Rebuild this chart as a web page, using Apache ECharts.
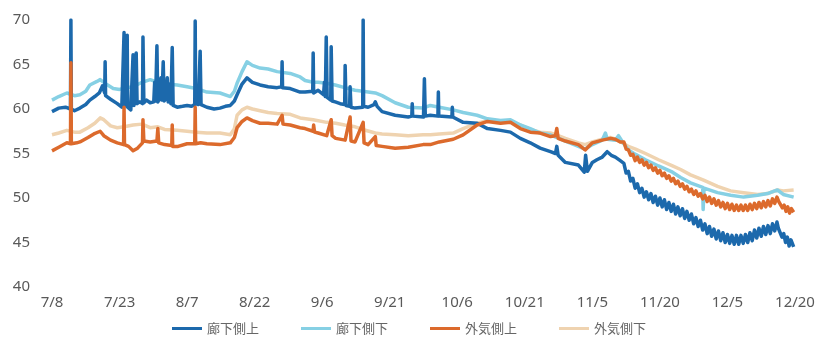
<!DOCTYPE html>
<html>
<head>
<meta charset="utf-8">
<script src="https://cdn.jsdelivr.net/npm/echarts@6/dist/echarts.min.js"></script>
<style>
  html, body { margin: 0; padding: 0; background: #ffffff; }
  #chart { width: 818px; height: 343px; }
</style>
</head>
<body>
<div id="chart"></div>
<script>
// Readings from 7/8 to 12/20; x = days elapsed since 7/8
const tickLabels = ['7/8', '7/23', '8/7', '8/22', '9/6', '9/21', '10/6', '10/21', '11/5', '11/20', '12/5', '12/20'];
const seriesNames = ['廊下側上', '廊下側下', '外気側上', '外気側下'];

// 廊下側上
const corridorUpper = [
  [0,59.7],[1.5,60.1],[3,60.2],[4.1,60.0],[4.2,70.0],[4.3,60.0],[5,59.8],[6.2,60.1],[7.5,60.5],[8.4,61.0],
  [9.5,61.4],[10.5,61.8],[11.2,62.6],[11.7,61.8],[11.8,65.3],[11.9,61.5],[13,61.1],[14.5,60.6],[15.5,60.2],
  [15.9,60.3],[16.0,68.6],[16.1,60.5],[16.6,60.3],[16.7,68.3],[16.8,60.2],[17.5,59.9],[17.9,60.0],[18.0,66.1],
  [18.2,60.4],[18.6,60.3],[18.7,66.3],[18.9,60.6],[19.5,60.8],[20.1,60.6],[20.2,68.1],[20.4,60.7],[21,61.0],
  [21.8,60.7],[22.6,60.8],[22.8,63.0],[23.0,60.9],[23.3,67.1],[23.5,60.8],[24.0,61.3],[24.2,63.5],[24.4,61.0],
  [24.7,65.3],[24.9,60.9],[25.3,61.2],[25.6,63.5],[25.8,60.8],[26.2,62.8],[26.4,60.6],[26.7,66.9],[26.9,60.4],
  [27.8,60.2],[29,60.3],[30,60.4],[31,60.3],[31.7,60.5],[31.8,69.9],[31.9,60.6],[32.5,60.5],[32.9,66.5],
  [33.1,60.5],[34.4,60.2],[36,60.0],[37.3,60.1],[38.5,60.3],[39.6,60.4],[40.5,60.9],[41.1,61.6],[42.2,62.8],
  [43.3,63.5],[44.5,63.0],[46.2,62.7],[48,62.5],[50,62.4],[51.0,62.5],[51.1,65.3],[51.2,62.4],[52.9,62.3],
  [55.1,61.9],[56.2,61.9],[57.9,62.0],[58.0,66.3],[58.1,61.8],[59.1,62.1],[60.3,61.6],[60.5,63.0],[60.7,61.4],
  [60.9,68.1],[61.1,61.3],[61.9,61.0],[62.0,67.0],[62.2,60.9],[62.9,60.8],[64.0,60.6],[65.0,60.5],[65.1,64.9],
  [65.3,60.4],[66.1,60.3],[66.2,62.5],[66.4,60.2],[67.3,60.1],[69.0,60.2],[69.1,70.0],[69.2,60.3],[70.2,60.2],
  [71.5,60.5],[71.8,60.8],[72.2,60.3],[73.3,59.7],[76.2,59.3],[79.1,59.1],[79.9,59.2],[80.0,60.6],[80.1,59.2],
  [82.5,59.1],[82.7,63.4],[82.9,59.2],[84,59.3],[85.7,59.2],[85.8,61.9],[85.9,59.2],[88.8,59.1],[88.9,60.2],
  [89.0,59.1],[91.3,58.5],[94.4,58.4],[96.7,57.8],[99.6,57.6],[101.8,57.4],[104,56.7],[106.2,56.2],[108.4,55.6],
  [110.7,55.2],[111.8,55.0],[112.1,55.8],[112.4,54.8],[114,54.0],[116.9,53.7],[118.2,52.9],[118.5,54.8],
  [118.9,53.0],[120,54.0],[121,54.3],[122.2,54.6],[123.3,55.2],[124.2,54.8],[125.1,54.6],[126.2,54.2],
  [127.0,53.9],[127.5,52.8],[128.0,53.0],[128.5,51.9],[129.0,52.2],[129.5,51.1],[130.0,51.6],[130.5,50.6],
  [131.0,51.1],[131.5,50.1],[132.0,50.7],[132.5,49.8],[133.0,50.5],[133.5,49.5],[134.0,50.2],[134.5,49.2],
  [135.0,50.0],[135.5,49.0],[136.0,49.8],[136.5,48.7],[137.0,49.5],[137.5,48.5],[138.0,49.3],[138.5,48.2],
  [139.0,49.0],[139.5,48.0],[140.0,48.8],[140.5,47.7],[141.0,48.5],[141.5,47.5],[142.0,48.2],[142.5,47.1],
  [143.0,47.8],[143.5,46.8],[144.0,47.5],[144.5,46.4],[145.0,47.1],[145.5,46.0],[146.0,46.8],[146.5,45.7],
  [147.0,46.5],[147.5,45.4],[148.0,46.3],[148.5,45.2],[149.0,46.1],[149.5,45.0],[150.0,45.9],[150.5,44.9],
  [151.0,45.8],[151.5,44.8],[152.0,45.8],[152.5,44.8],[153.0,45.8],[153.5,44.9],[154.0,45.9],[154.5,45.0],
  [155.0,46.1],[155.5,45.2],[156.0,46.4],[156.5,45.5],[157.0,46.6],[157.5,45.7],[158.0,46.8],[158.5,45.9],
  [159.0,46.9],[159.5,46.0],[160.0,47.1],[160.5,46.3],[161.0,47.3],[161.3,46.6],[161.7,46.8],[162.1,45.6],
  [162.5,46.0],[162.9,45.0],[163.3,45.6],[163.7,44.6],[164.1,45.3],[164.7,44.5]
];

// 廊下側下
const corridorLower = [
  [0,61.0],[1.5,61.4],[3.3,61.8],[5,61.5],[6.2,61.6],[7.5,62.0],[8.4,62.7],[10,63.1],[10.7,63.3],[12,62.8],
  [13.6,62.3],[15,62.2],[16.5,62.4],[18,62.5],[20,63.0],[21.8,63.3],[23.5,63.0],[25.5,62.8],[27.8,62.7],
  [30,62.5],[32,62.3],[34.4,61.9],[37.3,61.8],[39.6,61.4],[40.5,62.0],[41.1,62.9],[42.2,64.2],[43.3,65.3],
  [44.5,64.9],[46.2,64.6],[48,64.5],[50,64.2],[52.9,64.0],[55.1,63.6],[56.2,63.2],[58,63.0],[59.1,63.0],
  [61,62.9],[62.9,62.7],[65,62.4],[67.3,62.1],[69,62.0],[71.8,61.8],[73.3,61.5],[76.2,60.7],[79.1,60.2],
  [82.4,60.1],[84,60.4],[86,60.2],[89.1,59.9],[91.3,59.6],[94.4,59.3],[96.7,58.9],[99.6,58.7],[101.8,58.8],
  [104,58.2],[106.2,57.8],[108.4,57.3],[110.7,57.1],[112,56.8],[114,56.4],[116.9,55.8],[118.4,55.5],[120,56.0],
  [122.2,56.5],[122.9,57.3],[123.3,56.6],[125.1,56.5],[125.8,57.0],[126.7,56.3],[128,55.4],[129.6,54.9],
  [131.8,54.3],[134.7,53.6],[137.8,52.9],[139.6,52.3],[141.8,51.7],[144.5,51.2],[144.6,48.7],[144.8,51.1],
  [147.8,50.6],[150.7,50.3],[153.6,50.1],[156.7,50.3],[158.9,50.5],[160.5,50.8],[161.1,50.9],[162.4,50.4],
  [164.7,50.1]
];

// 外気側上
const outerUpper = [
  [0,55.3],[1.5,55.7],[3.3,56.2],[4.1,56.1],[4.2,65.2],[4.3,56.1],[5.5,56.2],[6.2,56.3],[8,56.8],[9.3,57.2],
  [10.7,57.5],[11.5,57.0],[13,56.5],[14.5,56.2],[15.9,56.0],[16.0,60.2],[16.1,56.0],[17,55.8],[18,55.3],
  [19,55.6],[20.1,56.2],[20.2,58.8],[20.4,56.4],[21.8,56.3],[23.3,56.4],[23.5,57.8],[23.7,56.2],[25,56.0],
  [26.6,55.9],[26.7,58.2],[26.8,55.8],[28,55.8],[30,56.1],[31.7,56.1],[31.8,60.2],[31.9,56.1],[33,56.2],
  [34.4,56.1],[37.3,56.0],[39.6,56.2],[40.5,56.8],[41.1,57.9],[42.2,58.6],[43.3,59.0],[44.5,58.7],[46.2,58.4],
  [48,58.4],[50,58.3],[51.1,59.3],[51.3,58.3],[52.9,58.2],[55.1,57.9],[56.2,57.8],[58,57.5],[58.1,58.2],
  [58.3,57.4],[59.1,57.3],[61,57.0],[62,58.8],[62.2,57.0],[63,56.7],[65.1,56.5],[66.2,59.1],[66.4,56.4],
  [67.3,56.3],[69.1,58.5],[69.3,56.2],[70.2,56.0],[71.8,56.9],[72.0,55.9],[73.3,55.8],[76.2,55.6],[79.1,55.7],
  [82.4,56.0],[84,56.0],[86,56.3],[89.1,56.6],[91.3,57.1],[94.4,58.2],[96.7,58.6],[99.6,58.4],[101.8,58.5],
  [104,57.8],[106.2,57.4],[108.4,57.3],[110.7,56.9],[111.8,57.0],[112.1,57.8],[112.4,56.7],[114,56.4],
  [116.9,56.0],[118.4,55.4],[120,56.2],[122.2,56.5],[124,56.7],[125.1,56.6],[126.2,56.3],
  [127.0,56.3],[127.5,55.5],[128.0,55.4],[128.5,54.8],[129.0,54.9],[129.5,54.2],[130.0,54.6],[130.5,54.0],
  [131.0,54.3],[131.5,53.7],[132.0,54.0],[132.5,53.4],[133.0,53.7],[133.5,53.1],[134.0,53.4],[134.5,52.8],
  [135.0,53.1],[135.5,52.5],[136.0,52.8],[136.5,52.2],[137.0,52.5],[137.5,51.9],[138.0,52.2],[138.5,51.6],
  [139.0,51.9],[139.5,51.3],[140.0,51.6],[140.5,51.0],[141.0,51.3],[141.5,50.7],[142.0,51.0],[142.5,50.4],
  [143.0,50.8],[143.5,50.2],[144.0,50.5],[144.5,49.9],[145.0,50.3],[145.5,49.6],[146.0,50.1],[146.5,49.4],
  [147.0,49.9],[147.5,49.2],[148.0,49.7],[148.5,49.0],[149.0,49.5],[149.5,48.8],[150.0,49.4],[150.5,48.7],
  [151.0,49.3],[151.5,48.6],[152.0,49.2],[152.5,48.6],[153.0,49.2],[153.5,48.6],[154.0,49.2],[154.5,48.6],
  [155.0,49.3],[155.5,48.7],[156.0,49.4],[156.5,48.8],[157.0,49.5],[157.5,48.9],[158.0,49.6],[158.5,49.0],
  [159.0,49.7],[159.5,49.1],[160.0,49.9],[160.5,49.4],[161.0,50.1],[161.4,49.6],[161.8,49.6],[162.2,48.9],
  [162.6,49.2],[163.0,48.5],[163.4,49.0],[163.8,48.3],[164.2,48.8],[164.7,48.4]
];

// 外気側下
const outerLower = [
  [0,57.1],[1.5,57.3],[3.3,57.6],[5,57.4],[6.2,57.4],[8,57.9],[9.5,58.4],[10.7,59.0],[11.5,58.8],[13,58.1],
  [14.5,57.9],[16,58.0],[18,58.2],[20,58.3],[21.8,57.9],[23.5,58.0],[25,57.7],[27.8,57.6],[30,57.5],[32,57.4],
  [34.4,57.3],[37.3,57.3],[39.6,57.1],[40.5,57.8],[41.1,59.3],[42.2,59.9],[43.3,60.2],[44.5,60.0],[46.2,59.8],
  [48,59.6],[50,59.5],[52.9,59.4],[55.1,59.0],[58,58.8],[61,58.5],[63,58.4],[65,58.2],[67.3,58.0],[69,57.7],
  [71.8,57.3],[73.3,57.2],[76.2,57.1],[79.1,57.0],[82.4,57.1],[84,57.1],[86,57.2],[89.1,57.3],[91.3,57.8],
  [94.4,58.4],[96.7,58.7],[99.6,58.6],[101.8,58.7],[104,58.2],[106.2,57.7],[108.4,57.4],[110.7,57.3],[112,57.1],
  [114,56.7],[116.9,56.2],[118.4,56.0],[120,56.3],[122.2,56.6],[124,56.8],[125.1,56.6],[126.7,56.2],[128,55.8],
  [129.6,55.5],[131.8,55.0],[134.7,54.3],[137.8,53.6],[139.6,53.2],[141.8,52.6],[144.7,52.0],[147.8,51.3],
  [150.7,50.8],[153.6,50.6],[156.7,50.4],[158.9,50.5],[161.1,50.9],[162.4,50.8],[164.7,50.9]
];

const colors = ['#1c69ac', '#86d0e4', '#dc6a2c', '#efd3b0'];
const dataSets = [corridorUpper, corridorLower, outerUpper, outerLower];
const zOrder = [3, 2, 4, 1];
const widths = [3.5, 3.5, 3.5, 3.5];

const chart = echarts.init(document.getElementById('chart'), null, { renderer: 'canvas' });
chart.setOption({
  animation: false,
  backgroundColor: '#ffffff',
  color: colors,
  grid: { left: 52, right: 23, top: 20, bottom: 56 },
  xAxis: {
    type: 'value',
    min: 0,
    max: 165,
    interval: 15,
    axisLine: { show: false },
    axisTick: { show: false },
    splitLine: { show: false },
    axisLabel: {
      margin: 8,
      color: '#595959',
      fontFamily: 'Noto Sans',
      fontSize: 15,
      formatter: v => tickLabels[Math.round(v / 15)] || ''
    }
  },
  yAxis: {
    type: 'value',
    min: 40,
    max: 70,
    interval: 5,
    axisLine: { show: false },
    axisTick: { show: false },
    splitLine: { show: false },
    axisLabel: {
      margin: 22,
      color: '#595959',
      fontFamily: 'Noto Sans',
      fontSize: 15
    }
  },
  legend: {
    data: seriesNames,
    top: 317,
    left: 'center',
    icon: 'rect',
    itemWidth: 30,
    itemHeight: 3,
    itemGap: 42,
    textStyle: { color: '#666666', fontSize: 13, fontFamily: 'Noto Sans CJK JP' }
  },
  series: seriesNames.map((name, i) => ({
    name: name,
    type: 'line',
    data: dataSets[i],
    showSymbol: false,
    symbol: 'none',
    z: zOrder[i],
    lineStyle: { width: widths[i], color: colors[i], join: 'round' },
    itemStyle: { color: colors[i] }
  }))
});
</script>
</body>
</html>
